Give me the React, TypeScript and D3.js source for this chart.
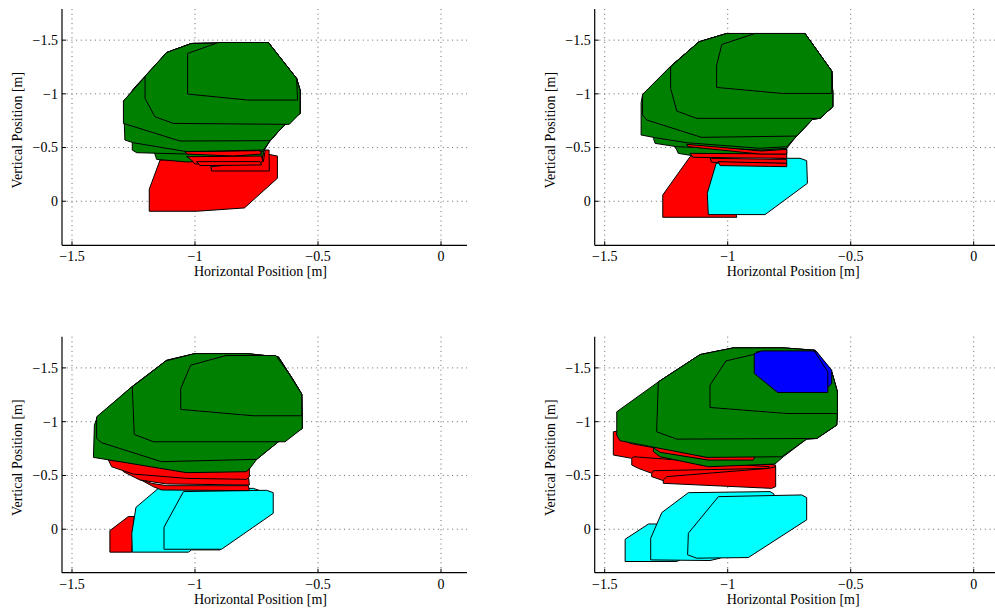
import React from "react";
import * as d3 from "d3";

type Pt = [number, number];
type Shape = { part: string; pts: Pt[] };

// ---------- data ----------
const X_TICKS = [-1.5, -1, -0.5, 0];
const Y_TICKS = [-1.5, -1, -0.5, 0];
const X_DOMAIN: [number, number] = [-1.5407, 0.1057];
const Y_DOMAIN_TOP: [number, number] = [-1.79, 0.41];
const Y_DOMAIN_BOTTOM: [number, number] = [-1.79, 0.404];
const X_LABEL = "Horizontal Position [m]";
const Y_LABEL = "Vertical Position [m]";

const PANEL1_SHAPES: Shape[] = [
  { part: "red", pts: [[-1.142, -0.384], [-0.709, -0.44], [-0.665, -0.421], [-0.665, -0.214], [-0.799, 0.062], [-0.993, 0.093], [-1.186, 0.093], [-1.186, -0.112]] },
  { part: "red", pts: [[-0.936, -0.322], [-0.722, -0.369], [-0.715, -0.477], [-0.699, -0.477], [-0.698, -0.282], [-0.932, -0.282]] },
  { part: "green", pts: [[-1.163, -0.44], [-1.156, -0.39], [-1.034, -0.366], [-0.729, -0.384], [-0.715, -0.508], [-0.641, -0.7], [-0.573, -0.818], [-0.573, -1.035], [-0.587, -1.143], [-0.702, -1.478], [-1.014, -1.469], [-1.115, -1.385], [-1.196, -1.165], [-1.196, -0.57]] },
  { part: "green", pts: [[-1.255, -0.555], [-1.255, -0.477], [-1.237, -0.452], [-1.034, -0.44], [-0.831, -0.44], [-0.722, -0.462], [-0.695, -0.564], [-0.641, -0.7], [-0.573, -0.818], [-0.573, -1.035], [-0.587, -1.143], [-0.702, -1.478], [-1.014, -1.469], [-1.115, -1.385], [-1.255, -1.035]] },
  { part: "red", pts: [[-1.041, -0.462], [-0.736, -0.471], [-0.729, -0.44], [-0.844, -0.421], [-1.034, -0.44]] },
  { part: "red", pts: [[-1.034, -0.415], [-0.729, -0.421], [-0.725, -0.375], [-0.736, -0.353], [-1.0, -0.347], [-1.014, -0.384]] },
  { part: "red", pts: [[-0.993, -0.369], [-0.736, -0.369], [-0.729, -0.338], [-0.98, -0.332]] },
  { part: "green", pts: [[-1.291, -0.933], [-1.285, -0.57], [-1.251, -0.545], [-1.034, -0.462], [-0.722, -0.477], [-0.695, -0.564], [-0.641, -0.7], [-0.573, -0.818], [-0.573, -1.035], [-0.587, -1.143], [-0.702, -1.478], [-1.014, -1.469], [-1.115, -1.385]] },
  { part: "green", pts: [[-1.291, -0.933], [-1.291, -0.725], [-1.061, -0.561], [-0.695, -0.564], [-0.641, -0.7], [-0.573, -0.818], [-0.573, -1.035], [-0.587, -1.143], [-0.702, -1.478], [-1.014, -1.469], [-1.115, -1.385]] },
  { part: "green", pts: [[-1.203, -1.165], [-1.115, -1.385], [-1.014, -1.469], [-0.702, -1.478], [-0.587, -1.143], [-0.573, -1.035], [-0.573, -0.818], [-0.617, -0.716], [-1.088, -0.725], [-1.163, -0.787], [-1.203, -0.958]] },
  { part: "green", pts: [[-1.03, -1.376], [-0.905, -1.478], [-0.702, -1.478], [-0.587, -1.143], [-0.583, -0.942], [-0.783, -0.942], [-1.03, -0.998]] },
];

const PANEL2_SHAPES: Shape[] = [
  { part: "red", pts: [[-1.153, -0.415], [-1.031, -0.409], [-0.963, 0.149], [-1.264, 0.149], [-1.264, -0.059]] },
  { part: "cyan", pts: [[-1.047, -0.353], [-0.76, -0.4], [-0.706, -0.4], [-0.679, -0.378], [-0.676, -0.167], [-0.848, 0.124], [-1.079, 0.124], [-1.083, -0.074]] },
  { part: "green", pts: [[-1.207, -0.477], [-1.201, -0.446], [-1.146, -0.425], [-0.76, -0.446], [-0.76, -0.508], [-0.72, -0.607], [-0.654, -0.765], [-0.625, -0.772], [-0.573, -0.88], [-0.573, -1.004], [-0.577, -1.212], [-0.686, -1.562], [-1.004, -1.562], [-1.117, -1.484], [-1.234, -1.252], [-1.248, -0.632]] },
  { part: "red", pts: [[-1.153, -0.446], [-0.76, -0.44], [-0.76, -0.4], [-1.14, -0.409]] },
  { part: "red", pts: [[-1.072, -0.4], [-0.76, -0.39], [-0.76, -0.353], [-1.065, -0.363]] },
  { part: "red", pts: [[-1.038, -0.369], [-0.76, -0.353], [-0.76, -0.322], [-1.031, -0.332]] },
  { part: "green", pts: [[-1.302, -0.586], [-1.295, -0.539], [-1.207, -0.508], [-0.862, -0.477], [-0.76, -0.493], [-0.72, -0.607], [-0.654, -0.765], [-0.625, -0.772], [-0.573, -0.88], [-0.573, -1.004], [-0.577, -1.212], [-0.686, -1.562], [-1.004, -1.562], [-1.117, -1.484], [-1.234, -1.252], [-1.302, -1.066]] },
  { part: "red", pts: [[-1.167, -0.53], [-0.862, -0.468], [-0.76, -0.483], [-0.76, -0.44], [-0.869, -0.44], [-1.16, -0.508]] },
  { part: "green", pts: [[-1.352, -0.917], [-1.352, -0.617], [-1.302, -0.595], [-1.167, -0.545], [-0.869, -0.493], [-0.76, -0.508], [-0.72, -0.607], [-0.654, -0.765], [-0.625, -0.772], [-0.573, -0.88], [-0.573, -1.004], [-0.577, -1.212], [-0.686, -1.562], [-1.004, -1.562], [-1.117, -1.484], [-1.234, -1.252], [-1.346, -0.995]] },
  { part: "green", pts: [[-1.346, -0.995], [-1.346, -0.803], [-1.329, -0.756], [-1.106, -0.595], [-0.72, -0.607], [-0.654, -0.765], [-0.625, -0.772], [-0.573, -0.88], [-0.573, -1.004], [-0.577, -1.212], [-0.686, -1.562], [-1.004, -1.562], [-1.117, -1.484], [-1.234, -1.252]] },
  { part: "green", pts: [[-1.232, -1.252], [-1.117, -1.484], [-1.004, -1.562], [-0.686, -1.562], [-0.577, -1.212], [-0.573, -1.004], [-0.573, -0.88], [-0.625, -0.772], [-1.126, -0.772], [-1.207, -0.84], [-1.232, -1.05]] },
  { part: "green", pts: [[-1.024, -1.46], [-0.889, -1.562], [-0.686, -1.562], [-0.577, -1.212], [-0.577, -1.004], [-0.78, -1.004], [-1.045, -1.06], [-1.045, -1.267]] },
];

const PANEL3_SHAPES: Shape[] = [
  { part: "red", pts: [[-1.346, 0.012], [-1.271, -0.118], [-1.247, -0.118], [-1.257, 0.213], [-1.346, 0.213]] },
  { part: "cyan", pts: [[-1.149, -0.38], [-0.763, -0.38], [-0.736, -0.359], [-0.736, -0.21], [-0.898, 0.192], [-1.014, 0.192], [-1.027, 0.213], [-1.255, 0.213], [-1.257, 0.037], [-1.24, -0.204]] },
  { part: "cyan", pts: [[-1.047, -0.35], [-0.709, -0.362], [-0.682, -0.34], [-0.682, -0.148], [-0.892, 0.186], [-1.126, 0.186], [-1.126, -0.019]] },
  { part: "green", pts: [[-1.409, -0.968], [-1.413, -0.668], [-1.346, -0.643], [-1.196, -0.566], [-1.034, -0.52], [-0.79, -0.526], [-0.749, -0.65], [-0.661, -0.813], [-0.564, -0.937], [-0.566, -1.256], [-0.6, -1.386], [-0.661, -1.602], [-0.79, -1.633], [-1.0, -1.633], [-1.115, -1.571], [-1.257, -1.324], [-1.397, -1.045]] },
  { part: "red", pts: [[-1.224, -0.464], [-1.176, -0.427], [-1.115, -0.405], [-0.783, -0.405], [-0.779, -0.359], [-1.136, -0.365], [-1.169, -0.395]] },
  { part: "red", pts: [[-1.305, -0.581], [-1.251, -0.535], [-1.034, -0.495], [-0.783, -0.504], [-0.779, -0.411], [-1.115, -0.421], [-1.224, -0.458], [-1.291, -0.535]] },
  { part: "red", pts: [[-1.352, -0.643], [-1.305, -0.628], [-1.034, -0.526], [-0.79, -0.535], [-0.779, -0.566], [-0.779, -0.489], [-0.79, -0.464], [-1.034, -0.473], [-1.251, -0.513], [-1.339, -0.581]] },
  { part: "green", pts: [[-1.4, -1.045], [-1.4, -0.844], [-1.379, -0.804], [-1.136, -0.628], [-0.749, -0.65], [-0.661, -0.813], [-0.564, -0.937], [-0.566, -1.256], [-0.6, -1.386], [-0.661, -1.602], [-0.79, -1.633], [-1.0, -1.633], [-1.115, -1.571], [-1.257, -1.324]] },
  { part: "green", pts: [[-1.255, -1.324], [-1.118, -1.565], [-1.0, -1.633], [-0.79, -1.633], [-0.661, -1.602], [-0.6, -1.386], [-0.566, -1.256], [-0.564, -0.937], [-0.634, -0.813], [-1.169, -0.813], [-1.247, -0.882]] },
  { part: "green", pts: [[-1.018, -1.525], [-0.874, -1.615], [-0.671, -1.615], [-0.614, -1.432], [-0.566, -1.256], [-0.566, -1.055], [-0.763, -1.055], [-1.058, -1.114], [-1.058, -1.308]] },
];

const PANEL4_SHAPES: Shape[] = [
  { part: "cyan", pts: [[-1.417, 0.093], [-1.322, -0.049], [-1.207, -0.049], [-1.194, 0.285], [-1.207, 0.3], [-1.417, 0.3]] },
  { part: "cyan", pts: [[-1.16, -0.34], [-0.828, -0.35], [-0.812, -0.328], [-0.812, -0.087], [-1.031, 0.269], [-1.072, 0.291], [-1.313, 0.285], [-1.313, 0.084], [-1.268, -0.155]] },
  { part: "cyan", pts: [[-1.038, -0.303], [-0.699, -0.319], [-0.679, -0.294], [-0.679, -0.087], [-0.916, 0.263], [-1.126, 0.269], [-1.163, 0.238], [-1.16, 0.037]] },
  { part: "red", pts: [[-1.465, -0.906], [-1.451, -0.912], [-1.397, -0.798], [-1.085, -0.668], [-0.805, -0.597], [-0.808, -0.551], [-1.085, -0.581], [-1.39, -0.659], [-1.465, -0.69]] },
  { part: "red", pts: [[-1.39, -0.659], [-1.39, -0.597], [-1.363, -0.566], [-1.309, -0.52], [-0.848, -0.489], [-0.831, -0.581], [-1.383, -0.674]] },
  { part: "red", pts: [[-1.309, -0.52], [-1.309, -0.489], [-1.262, -0.452], [-0.841, -0.427], [-0.825, -0.442], [-0.825, -0.566], [-1.302, -0.544]] },
  { part: "red", pts: [[-1.262, -0.458], [-1.262, -0.427], [-0.821, -0.38], [-0.805, -0.396], [-0.805, -0.581], [-0.835, -0.566], [-1.248, -0.489]] },
  { part: "green", pts: [[-1.302, -1.015], [-1.302, -0.721], [-1.275, -0.674], [-1.079, -0.581], [-0.808, -0.606], [-0.774, -0.674], [-0.679, -0.838], [-0.638, -0.844], [-0.557, -0.968], [-0.554, -1.076], [-0.554, -1.277], [-0.577, -1.463], [-0.645, -1.664], [-0.774, -1.686], [-0.977, -1.686], [-1.112, -1.624], [-1.282, -1.37]] },
  { part: "red", pts: [[-1.298, -0.752], [-1.275, -0.715], [-1.079, -0.643], [-0.896, -0.643], [-0.889, -0.674], [-1.085, -0.705], [-1.289, -0.783]] },
  { part: "green", pts: [[-1.451, -1.092], [-1.451, -0.875], [-1.438, -0.823], [-1.085, -0.668], [-0.78, -0.674], [-0.679, -0.838], [-0.638, -0.844], [-0.557, -0.968], [-0.554, -1.076], [-0.554, -1.277], [-0.577, -1.463], [-0.645, -1.664], [-0.774, -1.686], [-0.977, -1.686], [-1.112, -1.624], [-1.282, -1.37]] },
  { part: "green", pts: [[-1.282, -1.37], [-1.112, -1.624], [-0.977, -1.686], [-0.774, -1.686], [-0.645, -1.664], [-0.577, -1.463], [-0.554, -1.277], [-0.554, -1.076], [-0.557, -0.968], [-0.638, -0.844], [-1.207, -0.838], [-1.289, -0.906]] },
  { part: "green", pts: [[-1.007, -1.565], [-0.896, -1.624], [-0.645, -1.655], [-0.577, -1.463], [-0.554, -1.277], [-0.554, -1.076], [-0.76, -1.076], [-1.072, -1.132], [-1.072, -1.339]] },
  { part: "blue", pts: [[-0.882, -1.649], [-0.638, -1.649], [-0.577, -1.479], [-0.577, -1.355], [-0.604, -1.293], [-0.787, -1.293], [-0.882, -1.448]] },
  { part: "blue", pts: [[-0.892, -1.633], [-0.862, -1.658], [-0.648, -1.658], [-0.593, -1.463], [-0.593, -1.271], [-0.797, -1.271], [-0.892, -1.448]] },
];

// ---------- styles / layout ----------
const PART_FILL: Record<string, string> = {
  green: "#008000",
  red: "#ff0000",
  cyan: "#00ffff",
  blue: "#0000ff",
};
const FONT = "'Liberation Serif', 'Times New Roman', serif";
const FONT_SIZE = 14;

type Box = { left: number; right: number; top: number; bottom: number };

const fmt = (v: number) => String(v).replace("-", "\u2212");

function Panel({ shapes, box, yDomain }: { shapes: Shape[]; box: Box; yDomain: [number, number] }) {
  const x = d3.scaleLinear().domain(X_DOMAIN).range([box.left, box.right]);
  const y = d3.scaleLinear().domain(yDomain).range([box.top, box.bottom]);
  const path = d3
    .line<Pt>()
    .x((d) => x(d[0]))
    .y((d) => y(d[1]))
    .curve(d3.curveLinearClosed);
  const tickLen = 4;
  return (
    <g>
      {/* grid */}
      {X_TICKS.map((t) => (
        <line key={"gx" + t} x1={x(t)} x2={x(t)} y1={box.top} y2={box.bottom} stroke="#666" strokeWidth={1} strokeDasharray="1 3.7" />
      ))}
      {Y_TICKS.map((t) => (
        <line key={"gy" + t} x1={box.left} x2={box.right} y1={y(t)} y2={y(t)} stroke="#666" strokeWidth={1} strokeDasharray="1 3.7" />
      ))}
      {/* shapes */}
      {shapes.map((s, i) => (
        <path key={i} d={path(s.pts) || ""} fill={PART_FILL[s.part]} stroke="#000" strokeWidth={1} strokeLinejoin="miter" />
      ))}
      {/* axes */}
      <line x1={box.left} x2={box.left} y1={box.top} y2={box.bottom} stroke="#000" strokeWidth={1.2} />
      <line x1={box.left} x2={box.right} y1={box.bottom} y2={box.bottom} stroke="#000" strokeWidth={1.2} />
      {X_TICKS.map((t) => (
        <g key={"tx" + t}>
          <line x1={x(t)} x2={x(t)} y1={box.bottom} y2={box.bottom - tickLen} stroke="#000" strokeWidth={1} />
          <text x={x(t)} y={box.bottom + 16} textAnchor="middle" fontFamily={FONT} fontSize={FONT_SIZE} fill="#000">
            {fmt(t)}
          </text>
        </g>
      ))}
      {Y_TICKS.map((t) => (
        <g key={"ty" + t}>
          <line x1={box.left} x2={box.left + tickLen} y1={y(t)} y2={y(t)} stroke="#000" strokeWidth={1} />
          <text x={box.left - 4} y={y(t)} dy="0.35em" textAnchor="end" fontFamily={FONT} fontSize={FONT_SIZE} fill="#000">
            {fmt(t)}
          </text>
        </g>
      ))}
      <text x={(box.left + box.right) / 2 - 4} y={box.bottom + 31} textAnchor="middle" fontFamily={FONT} fontSize={FONT_SIZE} fill="#000">
        {X_LABEL}
      </text>
      <text
        transform={`translate(${box.left - 45},${(box.top + box.bottom) / 2 + 3}) rotate(-90)`}
        textAnchor="middle"
        dy="0.35em"
        fontFamily={FONT}
        fontSize={FONT_SIZE}
        fill="#000"
      >
        {Y_LABEL}
      </text>
    </g>
  );
}

export default function App() {
  const topBox = { top: 9, bottom: 245.3 };
  const botBox = { top: 336.7, bottom: 572.7 };
  const leftX = { left: 62, right: 467 };
  const rightX = { left: 594.7, right: 999.7 };
  return (
    <svg
      width={995}
      height={613}
      style={{ position: "absolute", left: 0, top: 0, background: "#fff" }}
    >
      <rect x={0} y={0} width={995} height={613} fill="#fff" />
      <Panel shapes={PANEL1_SHAPES} box={{ ...leftX, ...topBox }} yDomain={Y_DOMAIN_TOP} />
      <Panel shapes={PANEL2_SHAPES} box={{ ...rightX, ...topBox }} yDomain={Y_DOMAIN_TOP} />
      <Panel shapes={PANEL3_SHAPES} box={{ ...leftX, ...botBox }} yDomain={Y_DOMAIN_BOTTOM} />
      <Panel shapes={PANEL4_SHAPES} box={{ ...rightX, ...botBox }} yDomain={Y_DOMAIN_BOTTOM} />
    </svg>
  );
}
